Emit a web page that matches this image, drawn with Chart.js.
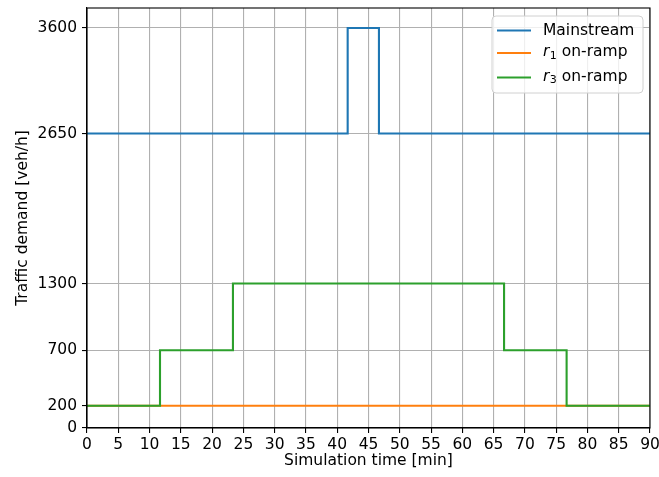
<!DOCTYPE html>
<html>
<head>
<meta charset="utf-8">
<script src="https://cdn.jsdelivr.net/npm/chart.js@4/dist/chart.umd.min.js"></script>
<style>
  html, body { margin: 0; padding: 0; background: #fff; }
</style>
</head>
<body>
<canvas id="myChart" width="659" height="477"></canvas>
<script>
// Step change times [min] and demand levels [veh/h]
var mainTimes = [0, 41.67, 46.67, 90];
var mainDemand = [2650, 3600, 2650, 2650];
var r1Times = [0, 90];
var r1Demand = [200, 200];
var r3Times = [0, 11.67, 23.33, 66.67, 76.67, 90];
var r3Demand = [200, 700, 1300, 700, 200, 200];

var yTicks = [0, 200, 700, 1300, 2650, 3600];

var FONT = "DejaVu Sans";
var FS = 15.5;

// Value at each time holds until the next change
function toPoints(xs, ys) {
  var pts = [];
  for (var i = 0; i < xs.length; i++) {
    pts.push({x: xs[i], y: ys[i]});
  }
  return pts;
}

// Legend entries: [text, subscript, color]
var legendItems = [
  ["Mainstream", null, '#1f77b4'],
  ["r", "1", '#ff7f0e'],
  ["r", "3", '#2ca02c']
];

// Draws frame (top/right spines) and the boxed legend
var framePlugin = {
  id: 'frame',
  afterDatasetsDraw: function(chart) {
    var c = chart.ctx;
    var a = chart.chartArea;
    c.save();
    c.strokeStyle = '#000';
    c.lineWidth = 1.1;
    c.strokeRect(a.left, a.top, a.right - a.left, a.bottom - a.top);
    c.restore();
  },
  afterDraw: function(chart) {
    var c = chart.ctx;
    c.save();
    var bx = 492, by = 16, bw = 151, bh = 77, r = 4;
    c.beginPath();
    c.moveTo(bx + r, by);
    c.arcTo(bx + bw, by, bx + bw, by + bh, r);
    c.arcTo(bx + bw, by + bh, bx, by + bh, r);
    c.arcTo(bx, by + bh, bx, by, r);
    c.arcTo(bx, by, bx + bw, by, r);
    c.closePath();
    c.fillStyle = 'rgba(255,255,255,0.8)';
    c.fill();
    c.strokeStyle = '#d0d0d0';
    c.lineWidth = 1;
    c.stroke();

    var rows = [30.5, 53, 77.5];
    for (var i = 0; i < legendItems.length; i++) {
      var it = legendItems[i];
      var y = rows[i];
      c.strokeStyle = it[2];
      c.lineWidth = 2.1;
      c.beginPath();
      c.moveTo(497, y);
      c.lineTo(531, y);
      c.stroke();
      c.fillStyle = '#000';
      c.textBaseline = 'middle';
      c.textAlign = 'left';
      var x = 543;
      if (it[1] === null) {
        c.font = FS + 'px "' + FONT + '"';
        c.fillText(it[0], x, y);
      } else {
        c.font = 'italic ' + FS + 'px "' + FONT + '"';
        c.fillText(it[0], x, y - 1);
        x += c.measureText(it[0]).width + 0.5;
        c.font = Math.round(FS * 0.7) + 'px "' + FONT + '"';
        c.fillText(it[1], x, y + 3);
        x += c.measureText(it[1]).width;
        c.font = FS + 'px "' + FONT + '"';
        c.fillText(" on-ramp", x, y - 1);
      }
    }
    c.restore();
  }
};

var ctx = document.getElementById("myChart");
var myChart = new Chart(ctx, {
  type: 'line',
  data: {
    datasets: [{
      label: 'Mainstream',
      data: toPoints(mainTimes, mainDemand),
      borderColor: '#1f77b4',
      order: 2
    }, {
      label: 'r1 on-ramp',
      data: toPoints(r1Times, r1Demand),
      borderColor: '#ff7f0e',
      order: 1
    }, {
      label: 'r3 on-ramp',
      data: toPoints(r3Times, r3Demand),
      borderColor: '#2ca02c',
      order: 0
    }]
  },
  options: {
    responsive: false,
    animation: false,
    devicePixelRatio: 1,
    elements: {
      line: { borderWidth: 2.1, stepped: 'before', tension: 0, fill: false },
      point: { radius: 0, hoverRadius: 0 }
    },
    layout: { padding: { left: 0, right: 9, top: 8, bottom: 0 } },
    plugins: {
      legend: { display: false },
      tooltip: { enabled: false }
    },
    scales: {
      x: {
        type: 'linear',
        min: 0,
        max: 90,
        afterFit: function(scale) {
          scale.height = 49;
          scale.paddingLeft = 0;
          scale.paddingRight = 0;
        },
        ticks: {
          stepSize: 5,
          autoSkip: false,
          maxRotation: 0,
          padding: 3,
          color: '#000',
          font: { family: FONT, size: FS },
          callback: function(v) { return String(v); }
        },
        grid: { color: '#b0b0b0', lineWidth: 1.1, tickColor: '#000', tickLength: 5 },
        border: { color: '#000', width: 1.1 },
        title: {
          display: true,
          text: 'Simulation time [min]',
          color: '#000',
          font: { family: FONT, size: FS },
          padding: { top: 0, bottom: 7 }
        }
      },
      y: {
        type: 'linear',
        min: 0,
        max: 3780,
        afterFit: function(scale) {
          scale.width = 87;
          scale.paddingTop = 0;
          scale.paddingBottom = 0;
        },
        afterBuildTicks: function(scale) {
          scale.ticks = yTicks.map(function(v) { return {value: v}; });
        },
        ticks: {
          padding: 5,
          color: '#000',
          font: { family: FONT, size: FS },
          callback: function(v) { return String(v); }
        },
        grid: { color: '#b0b0b0', lineWidth: 1.1, tickColor: '#000', tickLength: 5 },
        border: { color: '#000', width: 1.1 },
        title: {
          display: true,
          text: 'Traffic demand [veh/h]',
          color: '#000',
          font: { family: FONT, size: FS },
          padding: { top: 14, bottom: 0 }
        }
      }
    }
  },
  plugins: [framePlugin]
});
</script>
</body>
</html>
